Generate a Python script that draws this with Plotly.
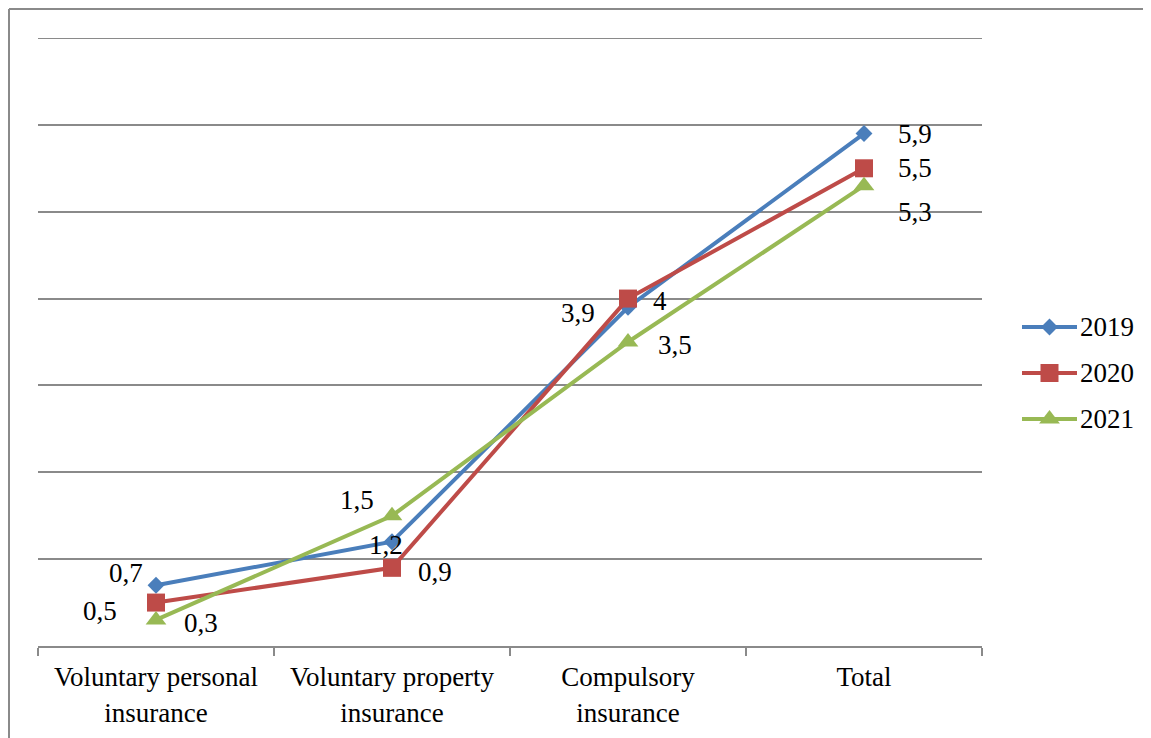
import plotly.graph_objects as go

# ---- data -------------------------------------------------------------
categories = [
    "Voluntary personal<br>insurance",
    "Voluntary property<br>insurance",
    "Compulsory<br>insurance",
    "Total",
]
years = ["2019", "2020", "2021"]
values_2019 = [0.7, 1.2, 3.9, 5.9]
values_2020 = [0.5, 0.9, 4.0, 5.5]
values_2021 = [0.3, 1.5, 3.5, 5.3]
labels_2019 = ["0,7", "1,2", "3,9", "5,9"]
labels_2020 = ["0,5", "0,9", "4", "5,5"]
labels_2021 = ["0,3", "1,5", "3,5", "5,3"]
y_max = 7

# ---- style ------------------------------------------------------------
FONT = "Liberation Serif, Times New Roman, serif"
GRID = "#8a8a8a"
FS = 27
OFF = 8                     # browser body margin, page is shifted by this
W, H = 1151 - OFF, 738 - OFF
L, R, T, B = 38 - OFF, 0, 38 - OFF, 92
PW = W - L - R
PH = H - T - B
X_DOMAIN_END = (982 - 38) / PW

series = [
    dict(name=years[0], y=values_2019, text=labels_2019, color="#4A7EBB",
         symbol="diamond", size=13,
         shift=[(-30, 12), (-6, -3), (-50, -6), (51, 0)]),
    dict(name=years[1], y=values_2020, text=labels_2020, color="#BE4B48",
         symbol="square", size=18,
         shift=[(-56, -8), (43, -4), (32, -2), (51, 0)]),
    dict(name=years[2], y=values_2021, text=labels_2021, color="#98B954",
         symbol="triangle-up", size=18,
         shift=[(45, -3), (-35, 16), (47, -3), (51, -26)]),
]

fig = go.Figure()
annotations = []

for i, s in enumerate(series):
    fig.add_trace(go.Scatter(
        x=categories, y=s["y"], mode="lines+markers", name=s["name"],
        line=dict(color=s["color"], width=4),
        marker=dict(symbol=s["symbol"], size=s["size"], color=s["color"],
                    line=dict(width=0)),
        showlegend=False, hoverinfo="skip",
    ))
    for cat, val, txt, (dx, dy) in zip(categories, s["y"], s["text"], s["shift"]):
        annotations.append(dict(
            x=cat, y=val, xref="x", yref="y", text=txt, showarrow=False,
            xshift=dx, yshift=dy, font=dict(family=FONT, size=FS, color="black"),
        ))

    # hand-made legend row (longer line sample than plotly's own legend)
    fig.add_trace(go.Scatter(
        x=[0, 0.5, 1], y=[i, i, i], xaxis="x2", yaxis="y2",
        mode="lines", line=dict(color=s["color"], width=4),
        showlegend=False, hoverinfo="skip",
    ))
    fig.add_trace(go.Scatter(
        x=[0.5], y=[i], xaxis="x2", yaxis="y2", mode="markers",
        marker=dict(symbol=s["symbol"], size=s["size"], color=s["color"],
                    line=dict(width=0)),
        showlegend=False, hoverinfo="skip",
    ))
    annotations.append(dict(
        x=1, y=i, xref="x2", yref="y2", text=s["name"], showarrow=False,
        xanchor="left", xshift=1, font=dict(family=FONT, size=FS, color="black"),
    ))

# outer frame (only top and left edges visible in the reference)
fx = (9 - OFF - L) / PW
fy = 1 + (T - (9 - OFF)) / PH
shapes = [
    dict(type="line", xref="paper", yref="paper", x0=fx, y0=fy, x1=1.2, y1=fy,
         line=dict(color=GRID, width=2)),
    dict(type="line", xref="paper", yref="paper", x0=fx, y0=fy, x1=fx, y1=-0.3,
         line=dict(color=GRID, width=2)),
    # plotly drops the gridline sitting on the top edge, so draw it
    dict(type="line", xref="paper", yref="y", x0=0, x1=X_DOMAIN_END,
         y0=y_max, y1=y_max, layer="below", line=dict(color=GRID, width=2)),
]

fig.update_layout(
    width=W, height=H,
    margin=dict(l=L, r=R, t=T, b=B),
    paper_bgcolor="white", plot_bgcolor="white",
    font=dict(family=FONT, size=FS, color="black"),
    xaxis=dict(
        domain=[0, X_DOMAIN_END],
        type="category", tickson="boundaries", ticks="outside", ticklen=8,
        tickwidth=2, tickcolor=GRID, showline=True, linecolor=GRID, linewidth=2,
        showgrid=False, tickfont=dict(family=FONT, size=FS, color="black"),
        ticklabelstandoff=6, range=[-0.5, 3.5], fixedrange=True,
    ),
    yaxis=dict(
        range=[0, y_max], dtick=1, showticklabels=False, showgrid=True,
        gridcolor=GRID, gridwidth=2, zeroline=False, ticks="", fixedrange=True,
    ),
    xaxis2=dict(
        domain=[(1022 - 38) / PW, (1077 - 38) / PW], range=[0, 1], anchor="y2",
        visible=False, fixedrange=True,
    ),
    yaxis2=dict(
        domain=[(646 - 442) / PH, (646 - 304) / PH], range=[2.5, -0.5],
        anchor="x2", visible=False, fixedrange=True,
    ),
    annotations=annotations,
    shapes=shapes,
    showlegend=False,
)

fig.write_html("out.html")
